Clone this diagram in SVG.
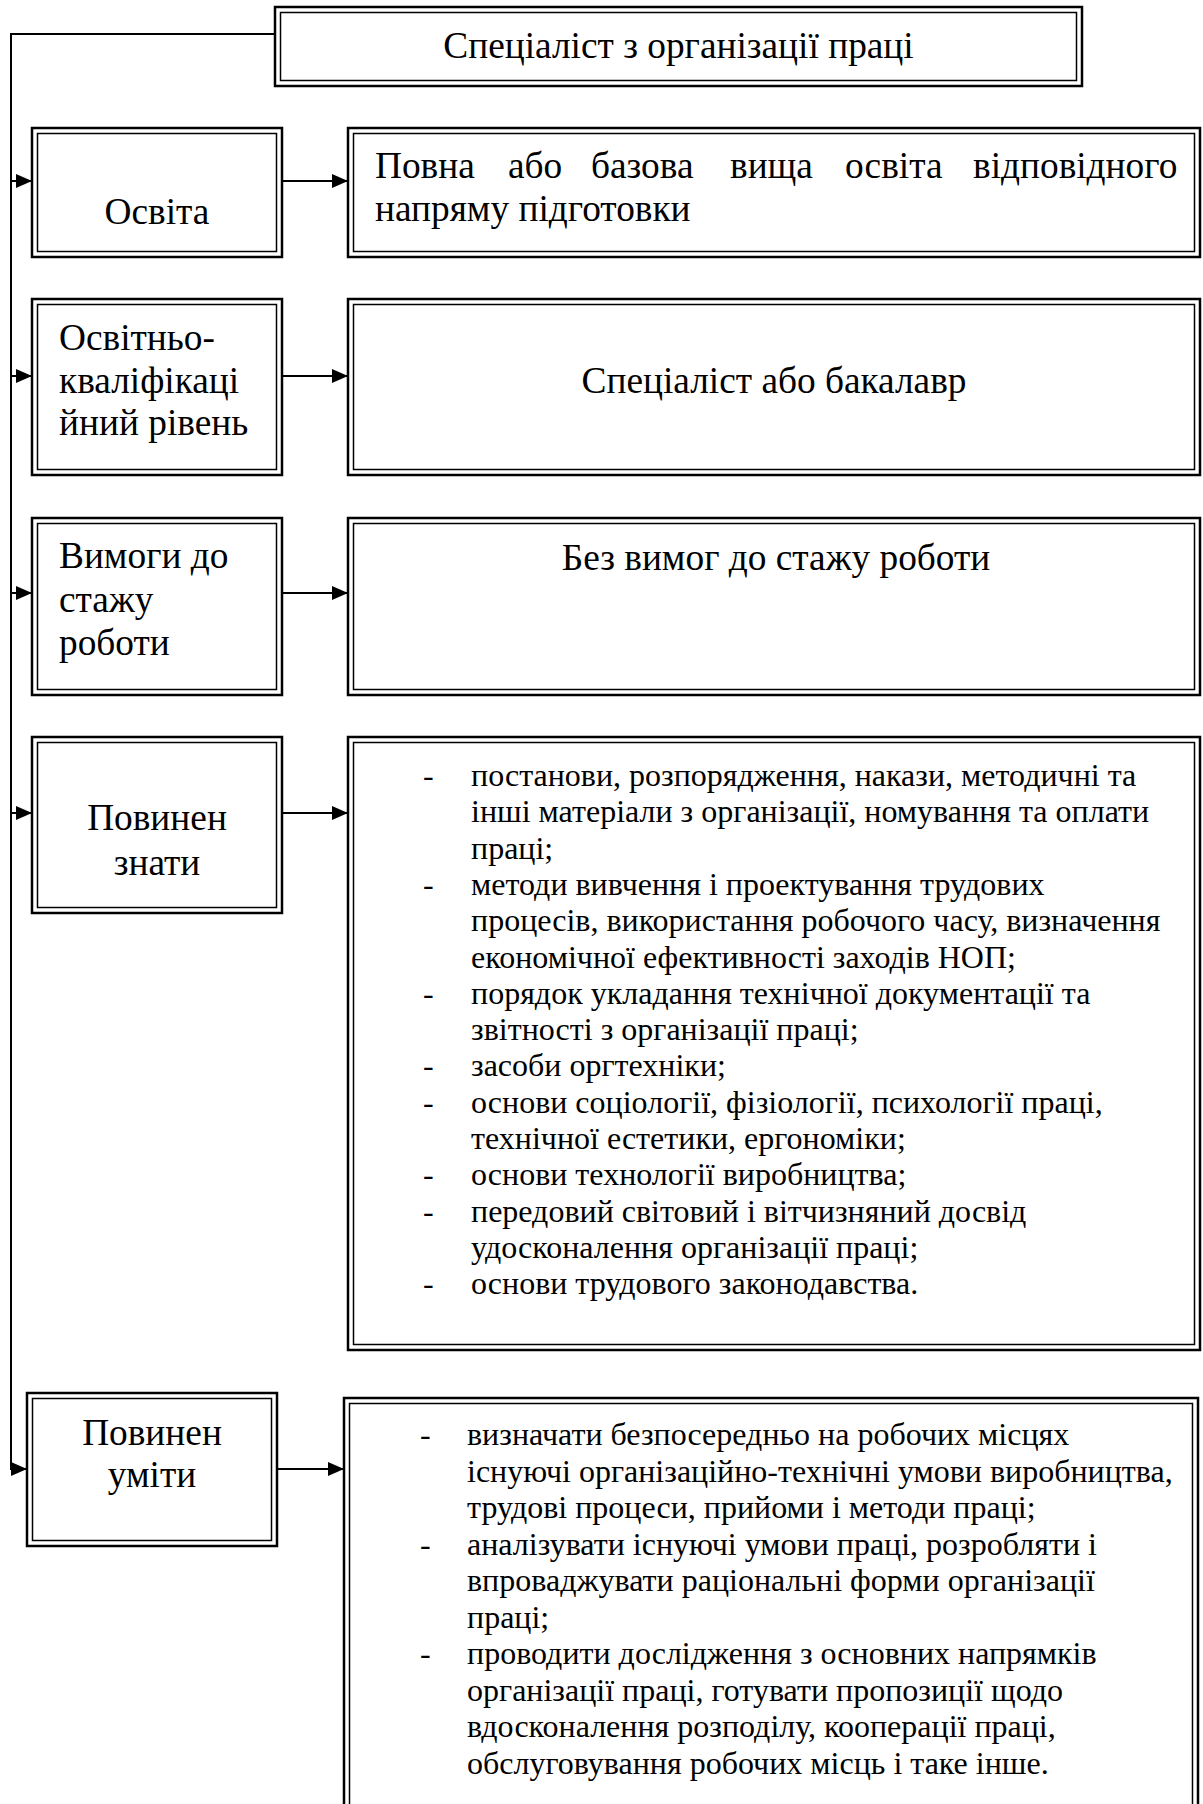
<svg xmlns="http://www.w3.org/2000/svg" width="1203" height="1804" viewBox="0 0 1203 1804">
<style>
  .o { fill: #ffffff; stroke: #000000; stroke-width: 2.5; }
  .i { fill: none; stroke: #000000; stroke-width: 1.5; }
  .t { font-family: "Liberation Serif", "Times New Roman", serif; font-size: 32px; fill: #000000; }
  .L { font-family: "Liberation Serif", "Times New Roman", serif; font-size: 37.33px; fill: #000000; }
  .c { text-anchor: middle; }
  .ln { fill: none; stroke: #000000; stroke-width: 2; }
</style>
<defs>
  <marker id="ah" markerUnits="userSpaceOnUse" viewBox="0 0 16 14" refX="16" refY="7" markerWidth="16" markerHeight="14" orient="auto">
    <path d="M0,0 L16,7 L0,14 Z" fill="#000000"/>
  </marker>
</defs>
<rect x="0" y="0" width="1203" height="1804" fill="#ffffff"/>

<g id="connectors">
  <polyline class="ln" points="275,34 11,34 11,1469 27,1469" marker-end="url(#ah)"/>
  <line class="ln" x1="11" y1="181" x2="32" y2="181" marker-end="url(#ah)"/>
  <line class="ln" x1="11" y1="376" x2="32" y2="376" marker-end="url(#ah)"/>
  <line class="ln" x1="11" y1="593" x2="32" y2="593" marker-end="url(#ah)"/>
  <line class="ln" x1="11" y1="813" x2="32" y2="813" marker-end="url(#ah)"/>
  <line class="ln" x1="282" y1="181" x2="348" y2="181" marker-end="url(#ah)"/>
  <line class="ln" x1="282" y1="376" x2="348" y2="376" marker-end="url(#ah)"/>
  <line class="ln" x1="282" y1="593" x2="348" y2="593" marker-end="url(#ah)"/>
  <line class="ln" x1="282" y1="813" x2="348" y2="813" marker-end="url(#ah)"/>
  <line class="ln" x1="277" y1="1469" x2="344" y2="1469" marker-end="url(#ah)"/>
</g>

<g id="node-top">
  <rect class="o" x="275" y="7" width="807" height="79"/>
  <rect class="i" x="280.5" y="12.5" width="796" height="68"/>
  <text class="L c" x="678.5" y="58">Спеціаліст з організації праці</text>
</g>

<g id="node-osvita">
  <rect class="o" x="32" y="128" width="250" height="129"/>
  <rect class="i" x="37.5" y="133.5" width="239" height="118"/>
  <text class="L c" x="157" y="224">Освіта</text>
</g>
<g id="node-osvita-value">
  <rect class="o" x="348" y="128" width="852" height="129"/>
  <rect class="i" x="353.5" y="133.5" width="841" height="118"/>
  <text class="L" y="178"><tspan x="375">Повна</tspan><tspan x="508">або</tspan><tspan x="591">базова</tspan><tspan x="730">вища</tspan><tspan x="845">освіта</tspan><tspan x="973">відповідного</tspan></text>
  <text class="L" x="375" y="221">напряму підготовки</text>
</g>

<g id="node-riven">
  <rect class="o" x="32" y="299" width="250" height="176"/>
  <rect class="i" x="37.5" y="304.5" width="239" height="165"/>
  <text class="L" x="59" y="350">Освітньо-</text>
  <text class="L" x="59" y="393">кваліфікаці</text>
  <text class="L" x="59" y="435">йний рівень</text>
</g>
<g id="node-riven-value">
  <rect class="o" x="348" y="299" width="852" height="176"/>
  <rect class="i" x="353.5" y="304.5" width="841" height="165"/>
  <text class="L c" x="774" y="393">Спеціаліст або бакалавр</text>
</g>

<g id="node-stazh">
  <rect class="o" x="32" y="518" width="250" height="177"/>
  <rect class="i" x="37.5" y="523.5" width="239" height="166"/>
  <text class="L" x="59" y="568">Вимоги до</text>
  <text class="L" x="59" y="612">стажу</text>
  <text class="L" x="59" y="655">роботи</text>
</g>
<g id="node-stazh-value">
  <rect class="o" x="348" y="518" width="852" height="177"/>
  <rect class="i" x="353.5" y="523.5" width="841" height="166"/>
  <text class="L c" x="776" y="570">Без вимог до стажу роботи</text>
</g>

<g id="node-znaty">
  <rect class="o" x="32" y="737" width="250" height="176"/>
  <rect class="i" x="37.5" y="742.5" width="239" height="165"/>
  <text class="L c" x="157" y="830">Повинен</text>
  <text class="L c" x="157" y="875">знати</text>
</g>
<g id="node-znaty-value">
  <rect class="o" x="348" y="737" width="852" height="613"/>
  <rect class="i" x="353.5" y="742.5" width="841" height="602"/>
  <text class="t" x="423" y="786">-</text>
  <text class="t" x="471" y="786">постанови, розпорядження, накази, методичні та</text>
  <text class="t" x="471" y="822.3">інші матеріали з організації, номування та оплати</text>
  <text class="t" x="471" y="858.6">праці;</text>
  <text class="t" x="423" y="894.9">-</text>
  <text class="t" x="471" y="894.9">методи вивчення і проектування трудових</text>
  <text class="t" x="471" y="931.2">процесів, використання робочого часу, визначення</text>
  <text class="t" x="471" y="967.5">економічної ефективності заходів НОП;</text>
  <text class="t" x="423" y="1003.8">-</text>
  <text class="t" x="471" y="1003.8">порядок укладання технічної документації та</text>
  <text class="t" x="471" y="1040.1">звітності з організації праці;</text>
  <text class="t" x="423" y="1076.4">-</text>
  <text class="t" x="471" y="1076.4">засоби оргтехніки;</text>
  <text class="t" x="423" y="1112.7">-</text>
  <text class="t" x="471" y="1112.7">основи соціології, фізіології, психології праці,</text>
  <text class="t" x="471" y="1149">технічної естетики, ергономіки;</text>
  <text class="t" x="423" y="1185.3">-</text>
  <text class="t" x="471" y="1185.3">основи технології виробництва;</text>
  <text class="t" x="423" y="1221.6">-</text>
  <text class="t" x="471" y="1221.6">передовий світовий і вітчизняний досвід</text>
  <text class="t" x="471" y="1257.9">удосконалення організації праці;</text>
  <text class="t" x="423" y="1294.2">-</text>
  <text class="t" x="471" y="1294.2">основи трудового законодавства.</text>
</g>

<g id="node-umity">
  <rect class="o" x="27" y="1393" width="250" height="153"/>
  <rect class="i" x="32.5" y="1398.5" width="239" height="142"/>
  <text class="L c" x="152" y="1445">Повинен</text>
  <text class="L c" x="152" y="1487">уміти</text>
</g>
<g id="node-umity-value">
  <rect class="o" x="344" y="1398" width="854" height="430"/>
  <rect class="i" x="349.5" y="1403.5" width="843" height="430"/>
  <text class="t" x="420" y="1445">-</text>
  <text class="t" x="467" y="1445">визначати безпосередньо на робочих місцях</text>
  <text class="t" x="467" y="1481.5">існуючі організаційно-технічні умови виробництва,</text>
  <text class="t" x="467" y="1518">трудові процеси, прийоми і методи праці;</text>
  <text class="t" x="420" y="1554.5">-</text>
  <text class="t" x="467" y="1554.5">аналізувати існуючі умови праці, розробляти і</text>
  <text class="t" x="467" y="1591">впроваджувати раціональні форми організації</text>
  <text class="t" x="467" y="1627.5">праці;</text>
  <text class="t" x="420" y="1664">-</text>
  <text class="t" x="467" y="1664">проводити дослідження з основних напрямків</text>
  <text class="t" x="467" y="1700.5">організації праці, готувати пропозиції щодо</text>
  <text class="t" x="467" y="1737">вдосконалення розподілу, кооперації праці,</text>
  <text class="t" x="467" y="1773.5">обслуговування робочих місць і таке інше.</text>
</g>
</svg>
